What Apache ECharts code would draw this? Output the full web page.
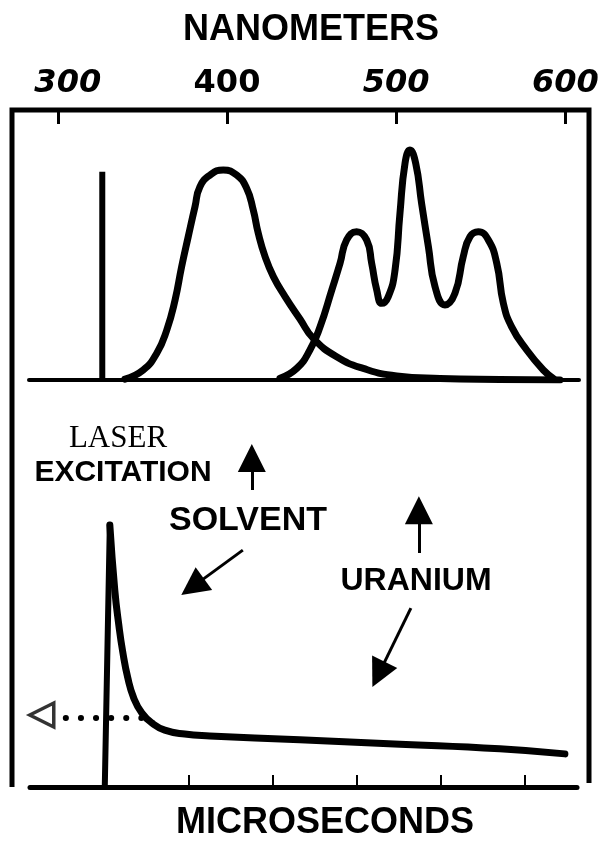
<!DOCTYPE html>
<html><head><meta charset="utf-8">
<script src="https://cdn.jsdelivr.net/npm/echarts@6/dist/echarts.min.js"></script>
<style>html,body{margin:0;padding:0;background:#fff}#c{width:605px;height:846px}</style>
</head><body><div id="c"></div>
<script>
// ---- data ----
const nmTicks = [300, 400, 500, 600];
const laserLine = [[326.3, 0], [326.3, 0.771]];
const solventSpectrum = [
  [339.7,0.003],[350.5,0.037],[358.5,0.099],[364.4,0.185],[369.3,0.296],[373.2,0.42],
  [377.1,0.531],[381.1,0.642],[384,0.716],[390,0.759],[397.8,0.778],[405.7,0.759],
  [411.6,0.71],[415.5,0.63],[418.5,0.543],[422.5,0.457],[427.4,0.383],[434.3,0.309],
  [443.1,0.226],[451,0.154],[464.8,0.086],[480.5,0.043],[500.3,0.015],[525.9,0.006],
  [561.3,0.002],[596.8,0]
];
const uraniumSpectrum = [
  [431.3,0.006],[441.2,0.043],[449,0.111],[455,0.197],[461.9,0.333],[466.8,0.432],
  [470.7,0.519],[476.6,0.549],[482.5,0.519],[485.5,0.432],[488.5,0.333],[491.4,0.284],
  [495.3,0.309],[499.3,0.407],[502.2,0.617],[505.2,0.803],[508.1,0.852],[511.5,0.803],
  [515,0.654],[519,0.494],[522.9,0.346],[528.8,0.278],[534.7,0.321],[539.6,0.457],
  [543.6,0.531],[548.5,0.549],[554.4,0.519],[559.4,0.432],[563.3,0.284],[568.2,0.197],
  [577.1,0.111],[586.9,0.037],[592.8,0.006]
];
const timeTicks = [1, 2, 3, 4, 5];
const riseLine = [[0, 0], [0.06, 0.728]];
const decayCurve = [
  [0.06,0.728],[0.119,0.547],[0.167,0.45],[0.214,0.375],[0.274,0.303],[0.345,0.247],
  [0.44,0.206],[0.56,0.178],[0.714,0.158],[0.952,0.147],[1.25,0.142],[2.321,0.131],
  [3.512,0.119],[4.702,0.106],[5.476,0.092]
];
const extrapolation = [[-0.464, 0.192], [0.44, 0.192]];
const intercept = [[-0.75, 0.2]];
const arrowLaser = [[1.75, 0.825], [1.75, 0.914]];
const arrowUraniumUp = [[3.738, 0.65], [3.738, 0.769]];
const arrowSolvent = [[1.643, 0.658], [1.045, 0.556]];
const arrowUraniumDown = [[3.643, 0.497], [3.258, 0.313]];

const headPath = 'path://M5,0 L10,24 L0,24 Z';
const F = 'Liberation Sans, Arial, sans-serif';

const chart = echarts.init(document.getElementById('c'), null, {renderer: 'canvas'});
chart.setOption({
  animation: false,
  backgroundColor: '#fff',
  grid: [
    {left: 29, right: 26, top: 110, bottom: 466},
    {left: 30, right: 28, top: 427, bottom: 59}
  ],
  xAxis: [
    {gridIndex: 0, type: 'value', min: 283, max: 608, position: 'bottom',
     axisLine: {show: true, onZero: false, lineStyle: {color: '#000', width: 4}},
     axisTick: {show: false}, axisLabel: {show: false}, splitLine: {show: false}},
    {gridIndex: 0, type: 'value', min: 283, max: 608, position: 'top',
     axisLine: {show: false, onZero: false},
     axisTick: {show: true, inside: true, length: 14, customValues: nmTicks, lineStyle: {color: '#000', width: 3}},
     axisLabel: {show: true, customValues: nmTicks, margin: 10,
       formatter: v => v === 400 ? '{n|400}' : (v === 300 ? '{s|300}' : '{i|' + v + '}'),
       rich: {
         n: {fontFamily: 'DejaVu Sans', fontWeight: 'bold', fontSize: 32, color: '#000'},
         i: {fontFamily: 'DejaVu Sans', fontWeight: 'bold', fontStyle: 'italic', fontSize: 32, color: '#000'},
         s: {fontFamily: 'DejaVu Sans', fontWeight: 'bold', fontStyle: 'italic', fontSize: 32, color: '#000', padding: [0, 0, 0, 20]}
       }},
     splitLine: {show: false}},
    {gridIndex: 1, type: 'value', min: -0.89, max: 5.62, position: 'bottom',
     axisLine: {show: true, onZero: false, lineStyle: {color: '#000', width: 5}},
     axisTick: {show: true, inside: true, length: 12, customValues: timeTicks, lineStyle: {color: '#000', width: 2}},
     axisLabel: {show: false}, splitLine: {show: false}}
  ],
  yAxis: [
    {gridIndex: 0, type: 'value', min: 0, max: 1, show: false},
    {gridIndex: 1, type: 'value', min: 0, max: 1, show: false}
  ],
  graphic: [
    {type: 'polyline', shape: {points: [[12, 787], [12, 110], [589, 110], [589, 783]]},
     style: {stroke: '#000', lineWidth: 5, fill: null}, z: 10},
    {type: 'text', x: 311, y: 30, style: {text: 'NANOMETERS', font: 'bold 36px ' + F, fill: '#000', align: 'center', verticalAlign: 'middle'}},
    {type: 'text', x: 325, y: 823, style: {text: 'MICROSECONDS', font: 'bold 36px ' + F, fill: '#000', align: 'center', verticalAlign: 'middle'}},
    {type: 'text', x: 118, y: 439, style: {text: 'LASER', font: '31px Liberation Serif, serif', fill: '#000', align: 'center', verticalAlign: 'middle'}},
    {type: 'text', x: 123, y: 473, style: {text: 'EXCITATION', font: 'bold 30px ' + F, fill: '#000', align: 'center', verticalAlign: 'middle'}},
    {type: 'text', x: 248, y: 521, style: {text: 'SOLVENT', font: 'bold 34px ' + F, fill: '#000', align: 'center', verticalAlign: 'middle'}},
    {type: 'text', x: 416, y: 581, style: {text: 'URANIUM', font: 'bold 32px ' + F, fill: '#000', align: 'center', verticalAlign: 'middle'}}
  ],
  series: [
    {type: 'line', xAxisIndex: 0, yAxisIndex: 0, data: laserLine, showSymbol: false,
     lineStyle: {color: '#000', width: 6, cap: 'butt'}},
    {type: 'line', xAxisIndex: 0, yAxisIndex: 0, data: solventSpectrum, showSymbol: false, smooth: 0.5,
     lineStyle: {color: '#000', width: 7, cap: 'round', join: 'round'}},
    {type: 'line', xAxisIndex: 0, yAxisIndex: 0, data: uraniumSpectrum, showSymbol: false, smooth: 0.5,
     lineStyle: {color: '#000', width: 7, cap: 'round', join: 'round'}},
    {type: 'line', xAxisIndex: 2, yAxisIndex: 1, data: riseLine, showSymbol: false,
     lineStyle: {color: '#000', width: 6, cap: 'round'}},
    {type: 'line', xAxisIndex: 2, yAxisIndex: 1, data: decayCurve, showSymbol: false, smooth: 0.5,
     lineStyle: {color: '#000', width: 7, cap: 'round', join: 'round'}},
    {type: 'line', xAxisIndex: 2, yAxisIndex: 1, data: extrapolation, showSymbol: false,
     lineStyle: {color: '#000', width: 6, cap: 'round', type: [0.1, 15]}},
    {type: 'scatter', xAxisIndex: 2, yAxisIndex: 1, data: intercept,
     symbol: 'path://M0,10 L20,0 L20,20 Z', symbolSize: [24, 24],
     itemStyle: {color: '#fff', borderColor: '#000', borderWidth: 3.5}},
    {type: 'lines', coordinateSystem: 'cartesian2d', xAxisIndex: 2, yAxisIndex: 1,
     symbol: ['none', headPath], symbolSize: [12, 28],
     lineStyle: {color: '#000', width: 3, opacity: 1, curveness: 0},
     data: [{coords: arrowLaser}, {coords: arrowUraniumUp}, {coords: arrowSolvent}, {coords: arrowUraniumDown}]}
  ]
});
</script>
</body></html>
